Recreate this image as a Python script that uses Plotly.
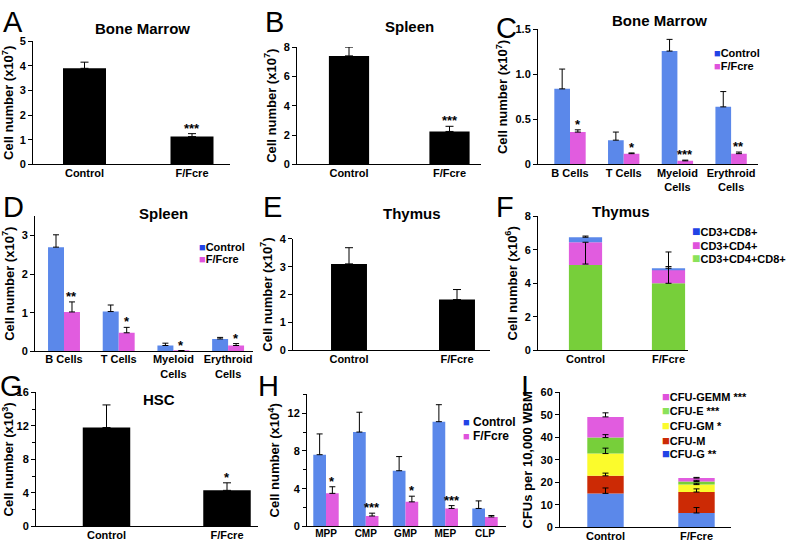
import numpy as np
import plotly.graph_objects as go

W, H = 792, 549
FONT = "Liberation Sans, Arial, Helvetica, sans-serif"

BAR_BLUE = "#5b88ea"
BAR_MAG = "#e15cdf"
KEY_BLUE = "#2143e6"
KEY_MAG = "#df52dc"
BAR_GREEN = "#77cf3a"
KEY_GREEN = "#8ae25a"
BAR_YELLOW = "#fbfb2c"
BAR_RED = "#cc2a05"
BLACK = "#000000"

# ---------------- data ----------------
groups = ["Control", "F/Fcre"]

a_values = [3.90, 1.13]
a_errors = [0.25, 0.12]
a_stars = ["", "***"]

b_values = [7.40, 2.25]
b_errors = [0.60, 0.35]
b_stars = ["", "***"]

c_categories = ["B Cells", "T Cells", "Myeloid<br>Cells", "Erythroid<br>Cells"]
c_control = [0.84, 0.27, 1.26, 0.64]
c_control_err = [0.22, 0.09, 0.13, 0.17]
c_fcre = [0.36, 0.12, 0.04, 0.12]
c_fcre_err = [0.025, 0.008, 0.008, 0.018]
c_stars = ["*", "*", "***", "**"]

d_categories = ["B Cells", "T Cells", "Myeloid<br>Cells", "Erythroid<br>Cells"]
d_control = [2.70, 1.03, 0.15, 0.32]
d_control_err = [0.32, 0.17, 0.06, 0.04]
d_fcre = [1.02, 0.48, 0.01, 0.15]
d_fcre_err = [0.26, 0.14, 0.01, 0.05]
d_stars = ["**", "*", "*", "*"]

e_values = [3.10, 1.82]
e_errors = [0.58, 0.36]

f_dp = [5.10, 4.00]      # CD3+CD4+CD8+
f_cd4 = [1.35, 0.80]     # CD3+CD4+
f_cd8 = [0.30, 0.10]     # CD3+CD8+
f_cd4_err_up = [0.0, 0.2]
f_cd4_err_down = [1.3, 0.8]
f_cd8_err_up = [0.07, 0.97]

g_values = [11.8, 4.3]
g_errors = [2.7, 0.9]
g_stars = ["", "*"]

h_categories = ["MPP", "CMP", "GMP", "MEP", "CLP"]
h_control = [7.6, 10.0, 5.9, 11.1, 1.9]
h_control_err = [2.2, 2.1, 1.5, 1.8, 0.8]
h_fcre = [3.5, 1.1, 2.6, 1.9, 1.0]
h_fcre_err = [0.7, 0.3, 0.6, 0.3, 0.15]
h_stars = ["*", "***", "*", "***", ""]

i_segments = ["CFU-G", "CFU-M", "CFU-GM", "CFU-E", "CFU-GEMM"]
i_legend = ["CFU-G **", "CFU-M", "CFU-GM *", "CFU-E ***", "CFU-GEMM ***"]
i_control = [15.1, 7.8, 9.9, 7.1, 9.2]
i_fcre = [6.4, 9.3, 3.3, 1.4, 1.5]
i_control_err = [2.4, 1.2, 2.4, 1.3, 1.8]
i_fcre_err = [2.4, 1.4, 0.6, 0.5, 0.3]
i_bar_colors = [BAR_BLUE, BAR_RED, BAR_YELLOW, BAR_GREEN, BAR_MAG]
i_key_colors = [KEY_BLUE, BAR_RED, BAR_YELLOW, KEY_GREEN, KEY_MAG]

fig = go.Figure()
layout_axes = {}
annotations = []


def ax_names(k):
    s = "" if k == 1 else str(k)
    return "x" + s, "y" + s, "xaxis" + s, "yaxis" + s


def setup_axes(k, left, right, top, bottom, first_center, step, yrange,
               tickvals, ticktext, ytitle, xfont=11, minor=None, standoff=4):
    xr, yr, xa, ya = ax_names(k)
    r0 = -(first_center - left) / step
    r1 = r0 + (right - left) / step
    layout_axes[xa] = dict(
        domain=[left / W, right / W], anchor=yr, type="category",
        range=[r0, r1], showline=True, linecolor=BLACK, linewidth=1,
        ticks="", showgrid=False, zeroline=False, fixedrange=True,
        ticklabelstandoff=-2,
        tickfont=dict(family=FONT, size=xfont, color=BLACK, weight="bold"),
    )
    yd = dict(
        domain=[1 - bottom / H, 1 - top / H], anchor=xr, range=yrange,
        showline=True, linecolor=BLACK, linewidth=1, ticks="outside",
        ticklen=4, tickwidth=1, tickcolor=BLACK, tickvals=tickvals,
        ticktext=ticktext, showgrid=False, zeroline=False, fixedrange=True,
        tickfont=dict(family=FONT, size=11, color=BLACK, weight="bold"),
        title=dict(text=ytitle, standoff=standoff,
                   font=dict(family=FONT, size=13, color=BLACK, weight="bold")),
    )
    if minor:
        yd["minor"] = dict(ticks="outside", ticklen=3, tickcolor=BLACK,
                           tickvals=minor, showgrid=False)
    layout_axes[ya] = yd
    return xr, yr


def err(arr, width=3, minus=None):
    return dict(type="data", array=arr,
                arrayminus=minus if minus is not None else [0] * len(arr),
                symmetric=False, color=BLACK, thickness=1, width=width)


def add_stars(xr, yr, cats, tops, labels, shift_px, size=13, yshift=-4):
    for c, t, s in zip(cats, tops, labels):
        if s:
            annotations.append(dict(
                x=c, y=t, xref=xr, yref=yr, text=s, showarrow=False,
                yanchor="bottom", xanchor="center", xshift=shift_px, yshift=yshift,
                font=dict(family=FONT, size=size, color=BLACK, weight="bold")))


def title(x_px, y_px, text, size=15):
    annotations.append(dict(
        x=x_px / W, y=1 - y_px / H, xref="paper", yref="paper", text=text,
        showarrow=False, xanchor="center", yanchor="middle",
        font=dict(family=FONT, size=size, color=BLACK, weight="bold")))


def letter(x_px, y_px, text):
    annotations.append(dict(
        x=x_px / W, y=1 - y_px / H, xref="paper", yref="paper", text=text,
        showarrow=False, xanchor="left", yanchor="middle",
        font=dict(family=FONT, size=29, color=BLACK)))


def key(x_px, y_px, color, label, size=11, sq=11):
    annotations.append(dict(
        x=x_px / W, y=1 - y_px / H, xref="paper", yref="paper",
        text=f"<span style='color:{color};font-size:{sq}px'>■</span>{label}",
        showarrow=False, xanchor="left", yanchor="middle",
        font=dict(family=FONT, size=size, color=BLACK, weight="bold")))


def single(k, values, errors, stars, geom, ymax, tickvals, ticktext, ytitle,
           width_frac, cap=4, minor=None, standoff=4):
    xr, yr = setup_axes(k, *geom, [0, ymax], tickvals, ticktext, ytitle,
                        minor=minor, standoff=standoff)
    fig.add_trace(go.Bar(x=groups, y=values, width=width_frac,
                         offset=-width_frac / 2, marker=dict(color=BLACK, line=dict(width=0)),
                         error_y=err(errors, width=cap), xaxis=xr, yaxis=yr))
    if stars:
        tops = list(np.array(values) + np.array(errors))
        add_stars(xr, yr, groups, tops, stars, 0)


def grouped(k, cats, ctrl, ctrl_err, fc, fc_err, stars, geom, ymax,
            tickvals, ticktext, ytitle, width_frac, xfont=11, minor=None, standoff=4):
    xr, yr = setup_axes(k, *geom, [0, ymax], tickvals, ticktext, ytitle,
                        xfont=xfont, minor=minor, standoff=standoff)
    fig.add_trace(go.Bar(x=cats, y=ctrl, width=width_frac, offset=-width_frac,
                         marker=dict(color=BAR_BLUE, line=dict(width=0)),
                         error_y=err(ctrl_err, width=3), xaxis=xr, yaxis=yr))
    fig.add_trace(go.Bar(x=cats, y=fc, width=width_frac, offset=0,
                         marker=dict(color=BAR_MAG, line=dict(width=0)),
                         error_y=err(fc_err, width=3), xaxis=xr, yaxis=yr))
    step = geom[5]
    tops = list(np.array(fc) + np.array(fc_err))
    add_stars(xr, yr, cats, tops, stars, width_frac / 2 * step)


cell7 = "Cell number (x10<sup>7</sup>)"

# geometry: left, right, top, bottom (px), first category centre (px), category step (px)
# ---- A ----
single(1, a_values, a_errors, a_stars, (33, 230, 36, 162, 84.5, 107.5), 5,
       [0, 1, 2, 3, 4, 5], ["0", "1", "2", "3", "4", "5"], cell7, 0.40)
title(142, 23, "Bone Marrow")
letter(1, 16, "A")

# ---- B ----
single(2, b_values, b_errors, b_stars, (297, 481, 42, 162, 349, 100.5), 8,
       [0, 2, 4, 6, 8], ["0", "2", "4", "6", "8"], cell7, 0.40)
title(409, 21, "Spleen")
letter(263, 16, "B")

# ---- C ----
grouped(3, c_categories, c_control, c_control_err, c_fcre, c_fcre_err, c_stars,
        (538, 758, 24, 162, 570, 53.7), 1.5, [0, 0.5, 1.0, 1.5],
        ["0", "0.5", "1.0", "1.5"], cell7, 0.292, xfont=11)
title(659, 15, "Bone Marrow")
letter(494, 22, "C")
key(712, 48, KEY_BLUE, "Control")
key(712, 61, KEY_MAG, "F/Fcre")

# ---- D ----
grouped(4, d_categories, d_control, d_control_err, d_fcre, d_fcre_err, d_stars,
        (35, 253, 215, 353, 64, 54.7), 3.5, [0, 1, 2, 3],
        ["0", "1", "2", "3"], cell7, 0.292, xfont=11)
title(163, 212, "Spleen")
letter(1, 205, "D")
key(197, 246, KEY_BLUE, "Control")
key(197, 259, KEY_MAG, "F/Fcre")

# ---- E ----
single(5, e_values, e_errors, None, (293, 490, 238, 352, 349, 108), 4,
       [0, 1, 2, 3, 4], ["0", "1", "2", "3", "4"], cell7, 0.333)
title(412, 212, "Thymus")
letter(261, 205, "E")

# ---- F ----
xr, yr = setup_axes(6, 538, 688, 215, 352, 585.5, 83, [0, 8], [0, 2, 4, 6, 8],
                    ["0", "2", "4", "6", "8"], "Cell number (x10<sup>6</sup>)")
fw = 0.40
f_base = np.zeros(2)
f_tops = []
for vals, col in [(f_dp, BAR_GREEN), (f_cd4, BAR_MAG), (f_cd8, BAR_BLUE)]:
    fig.add_trace(go.Bar(x=groups, y=vals, base=list(f_base), width=fw, offset=-fw / 2,
                         marker=dict(color=col, line=dict(width=0)), xaxis=xr, yaxis=yr))
    f_base = f_base + np.array(vals)
    f_tops.append(list(f_base))
fig.add_trace(go.Scatter(x=groups, y=f_tops[1], mode="markers", marker=dict(size=0, opacity=0),
                         error_y=err(f_cd4_err_up, width=3, minus=f_cd4_err_down),
                         xaxis=xr, yaxis=yr))
fig.add_trace(go.Scatter(x=groups, y=f_tops[2], mode="markers", marker=dict(size=0, opacity=0),
                         error_y=err(f_cd8_err_up, width=3), xaxis=xr, yaxis=yr))
title(621, 210, "Thymus")
letter(494, 205, "F")
key(690, 230, KEY_BLUE, "CD3+CD8+", sq=14)
key(690, 244, KEY_MAG, "CD3+CD4+", sq=14)
key(690, 258, KEY_GREEN, "CD3+CD4+CD8+", sq=14)

# ---- G ----
single(7, g_values, g_errors, g_stars, (36, 258, 395, 532, 106.5, 120.5), 16,
       [0, 4, 8, 12, 16], ["0", "4", "8", "12", "16"], "Cell number (x10<sup>3</sup>)",
       0.394, minor=[2, 6, 10, 14])
title(159, 402, "HSC", size=15)
letter(-2, 389, "G")

# ---- H ----
grouped(8, h_categories, h_control, h_control_err, h_fcre, h_fcre_err, h_stars,
        (307, 506, 397, 532, 326, 39.75), 14, [0, 4, 8, 12],
        ["0", "4", "8", "12"], "Cell number (x10<sup>4</sup>)", 0.32, xfont=10,
        minor=[2, 6, 10, 14])
letter(256, 389, "H")
key(461, 425, KEY_BLUE, " Control", size=12)
key(461, 440, KEY_MAG, " F/Fcre", size=12)

# ---- I ----
xr, yr = setup_axes(9, 560, 731, 395, 533, 605.5, 91, [0, 60],
                    [0, 10, 20, 30, 40, 50, 60],
                    ["0", "10", "20", "30", "40", "50", "60"], "CFUs per 10,000 WBM")
iw = 0.40
i_base = np.zeros(2)
for n in range(len(i_segments)):
    vals = [i_control[n], i_fcre[n]]
    fig.add_trace(go.Bar(x=groups, y=vals, base=list(i_base), width=iw, offset=-iw / 2,
                         name=i_segments[n],
                         marker=dict(color=i_bar_colors[n], line=dict(width=0)),
                         xaxis=xr, yaxis=yr))
    i_base = i_base + np.array(vals)
    fig.add_trace(go.Scatter(x=groups, y=list(i_base), mode="markers",
                             marker=dict(size=0, opacity=0),
                             error_y=err([i_control_err[n], i_fcre_err[n]], width=3),
                             xaxis=xr, yaxis=yr))
letter(519, 389, "I")
for n, yk in zip(range(len(i_segments) - 1, -1, -1), [399, 414, 429, 444, 458]):
    key(660, yk, i_key_colors[n], i_legend[n], sq=13)

fig.update_layout(
    width=W, height=H, margin=dict(l=0, r=0, t=0, b=0),
    paper_bgcolor="white", plot_bgcolor="white", showlegend=False,
    barmode="group", font=dict(family=FONT, color=BLACK),
    annotations=annotations, **layout_axes,
)

fig.write_html("out.html", config={"displayModeBar": False},
               post_script="document.body.style.margin='0';document.body.style.overflow='hidden';")
